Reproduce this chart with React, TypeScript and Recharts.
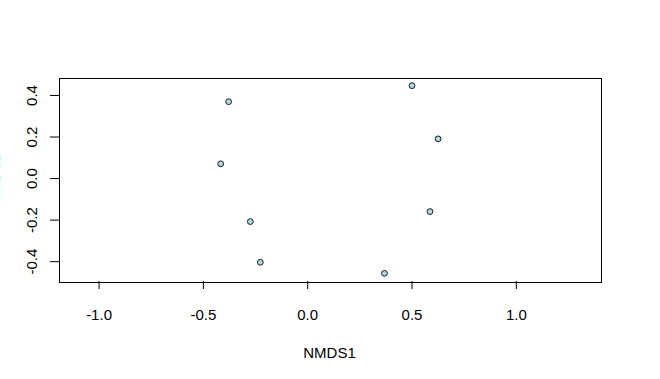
import { ScatterChart, Scatter, XAxis, YAxis } from 'recharts';

const nmds1 = [-0.379, 0.5, 0.625, -0.417, 0.586, -0.275, -0.227, 0.368];
const nmds2 = [0.37, 0.447, 0.191, 0.071, -0.159, -0.207, -0.403, -0.456];
const xTicks = [-1.0, -0.5, 0.0, 0.5, 1.0];
const yTicks = [-0.4, -0.2, 0.0, 0.2, 0.4];

const points = nmds1.map((x, i) => ({ x, y: nmds2[i] }));

const FONT = '"Liberation Sans", Arial, sans-serif';

function XTick({ x, y, payload }: any) {
  return (
    <g>
      <line x1={x} x2={x} y1={y} y2={y + 8} stroke="#000" />
      <text x={x} y={y + 39} textAnchor="middle" fontSize={15} fontFamily={FONT} fill="#000">
        {payload.value.toFixed(1)}
      </text>
    </g>
  );
}

function YTick({ x, y, payload }: any) {
  return (
    <g>
      <line x1={x - 9} x2={x} y1={y} y2={y} stroke="#000" />
      <text
        x={x - 22}
        y={y}
        transform={`rotate(-90 ${x - 22} ${y})`}
        textAnchor="middle"
        fontSize={15}
        fontFamily={FONT}
        fill="#000"
      >
        {payload.value.toFixed(1)}
      </text>
    </g>
  );
}

function Dot({ cx, cy }: any) {
  return <circle cx={cx} cy={cy} r={2.9} fill="#add8e6" stroke="#1a1a1a" strokeWidth={1} />;
}

export default function App() {
  return (
    <div style={{ position: 'absolute', left: 0, top: 0, width: 660, height: 379, background: '#fff' }}>
      <ScatterChart width={660} height={379} margin={{ top: 78, right: 60, bottom: 38, left: 0 }}>
        <XAxis
          type="number"
          dataKey="x"
          domain={[-1.192, 1.401]}
          ticks={xTicks}
          allowDataOverflow
          height={60}
          axisLine={false}
          tickLine={false}
          tickSize={0}
          tickMargin={0}
          tick={<XTick />}
          interval={0}
          label={{
            content: ({ viewBox }: any) => (
              <text
                x={viewBox.x + viewBox.width / 2}
                y={viewBox.y + 76.5}
                textAnchor="middle"
                fontSize={15}
                fontFamily={FONT}
                fill="#000"
              >
                NMDS1
              </text>
            ),
          }}
        />
        <YAxis
          type="number"
          dataKey="y"
          domain={[-0.493, 0.484]}
          ticks={yTicks}
          allowDataOverflow
          width={59}
          axisLine={false}
          tickLine={false}
          tickSize={0}
          tickMargin={0}
          tick={<YTick />}
          interval={0}
          label={{
            content: ({ viewBox }: any) => {
              const cy = viewBox.y + viewBox.height / 2;
              return (
                <text
                  x={0}
                  y={cy}
                  transform={`rotate(-90 0 ${cy})`}
                  textAnchor="middle"
                  fontSize={15}
                  fontFamily={FONT}
                  fill="#5ff"
                >
                  NMDS2
                </text>
              );
            },
          }}
        />
        <Scatter data={points} shape={<Dot />} isAnimationActive={false} />
      </ScatterChart>
      <div
        style={{
          position: 'absolute',
          left: 59,
          top: 78,
          width: 541,
          height: 203,
          border: '1px solid #000',
          pointerEvents: 'none',
        }}
      />
    </div>
  );
}
